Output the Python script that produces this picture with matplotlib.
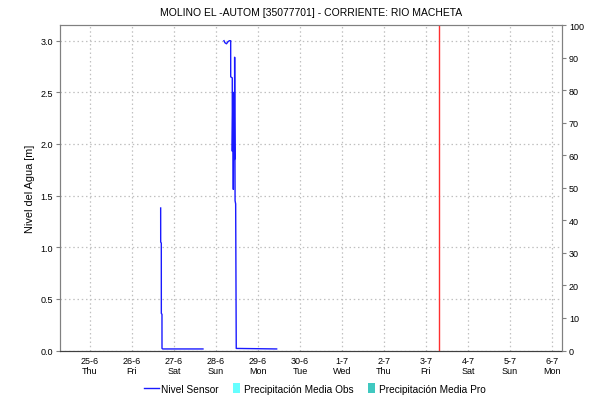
import matplotlib
matplotlib.use("Agg")
import matplotlib.pyplot as plt
import matplotlib.patches as mpatches
from matplotlib.lines import Line2D
from matplotlib.legend_handler import HandlerPatch
import numpy as np
import pandas as pd

plt.rcParams['font.family'] = ['Liberation Sans', 'DejaVu Sans']

title = "MOLINO EL -AUTOM [35077701] - CORRIENTE: RIO MACHETA"
ylabel = "Nivel del Agua [m]"

# Nivel Sensor time series (NaN = gap in data)
times = [
    "2020-06-26 16:23", "2020-06-26 16:24", "2020-06-26 16:45", "2020-06-26 16:46",
    "2020-06-26 17:08", "2020-06-26 17:09", "2020-06-26 17:33", "2020-06-27 16:34",
    "2020-06-27 16:35",
    "2020-06-28 04:34", "2020-06-28 05:08", "2020-06-28 06:00", "2020-06-28 06:52",
    "2020-06-28 07:40", "2020-06-28 08:24", "2020-06-28 08:25", "2020-06-28 09:19",
    "2020-06-28 09:20", "2020-06-28 09:40", "2020-06-28 09:55", "2020-06-28 10:05",
    "2020-06-28 10:15", "2020-06-28 10:25", "2020-06-28 10:35", "2020-06-28 10:40",
    "2020-06-28 10:55", "2020-06-28 11:15", "2020-06-28 11:35", "2020-06-29 10:41",
]
nivel = [
    1.38, 1.05, 1.04, 0.36,
    0.35, 0.02, 0.015, 0.015,
    np.nan,
    3.00, 2.98, 2.97, 2.99,
    3.00, 3.00, 2.65, 2.64,
    1.93, 2.50, 1.56, 2.45,
    1.90, 2.50, 1.85, 2.84,
    1.45, 1.42, 0.02, 0.015,
]

# precipitation series (no values in window)
precip_obs = []
precip_pro = []

current_time = "2020-07-03 07:26"
x_start = "2020-06-24 06:51"
x_end = "2020-07-06 05:46"
tick_days = pd.date_range("2020-06-25", "2020-07-06", freq="D")
dias = {0: "Mon", 1: "Tue", 2: "Wed", 3: "Thu", 4: "Fri", 5: "Sat", 6: "Sun"}
tick_labels = [f"{d.day}-{d.month}\n{dias[d.weekday()]}" for d in tick_days]

left_ticks = [0.0, 0.5, 1.0, 1.5, 2.0, 2.5, 3.0]
right_ticks = list(range(0, 101, 10))

fig = plt.figure(figsize=(5.9, 4.06), dpi=100)
ax = fig.add_axes([60/590, 1-351.5/406, (562-60)/590, (351.5-26)/406])
ax2 = ax.twinx()

t = pd.to_datetime(times)
ax.plot(t, nivel, color='#1a1aff', lw=1.0, zorder=3)
ax.axvline(pd.Timestamp(current_time), color='#ff3030', lw=1.0, zorder=4)

ax.set_xlim(pd.Timestamp(x_start), pd.Timestamp(x_end))
ax.set_ylim(0, 3.152)
ax2.set_ylim(0, 100)

ax.set_xticks(tick_days)
ax.set_xticklabels(tick_labels, fontsize=6.5)
ax.set_yticks(left_ticks)
ax.set_yticklabels([f"{v:.1f}" for v in left_ticks], fontsize=6.5)
ax2.set_yticks(right_ticks)
ax2.set_yticklabels([str(v) for v in right_ticks], fontsize=6.5)

ax.grid(True, color='#c0c0c0', linestyle=(0, (1.2, 2.2)), lw=0.9)
ax.set_axisbelow(True)

for a in (ax, ax2):
    for s in ('left', 'right', 'top'):
        a.spines[s].set_color('#808080')
    a.spines['bottom'].set_color('#404040')
    a.spines['bottom'].set_linestyle((0, (1, 1)))
ax.tick_params(axis='y', length=3, width=0.8, color='#808080', pad=2)
ax2.tick_params(axis='y', length=3, width=0.8, color='#808080', pad=2)
ax.tick_params(axis='x', length=0, pad=4)

ax.set_ylabel(ylabel, fontsize=7.8, labelpad=4)
ax.set_title(title, fontsize=7.5, pad=7)


class NarrowPatch(HandlerPatch):
    def create_artists(self, legend, orig_handle, xdescent, ydescent, width, height, fontsize, trans):
        w = 5
        p = mpatches.Rectangle((width - w - 1, -ydescent - 1), w, height + 2,
                               facecolor=orig_handle.get_facecolor(), edgecolor='none', transform=trans)
        return [p]


h1 = Line2D([], [], color='#1a1aff', lw=1.0)
h2 = mpatches.Patch(color='#66ffff')
h3 = mpatches.Patch(color='#40c8c0')
fig.legend([h1, h2, h3], ["Nivel Sensor", "Precipitación Media Obs", "Precipitación Media Pro"],
           loc='center', bbox_to_anchor=(0.533, 0.04), ncol=3, frameon=False, fontsize=7.3,
           handlelength=1.5, handletextpad=0.2, columnspacing=0.8,
           handler_map={mpatches.Patch: NarrowPatch()})

fig.savefig("out.png", dpi=100)
